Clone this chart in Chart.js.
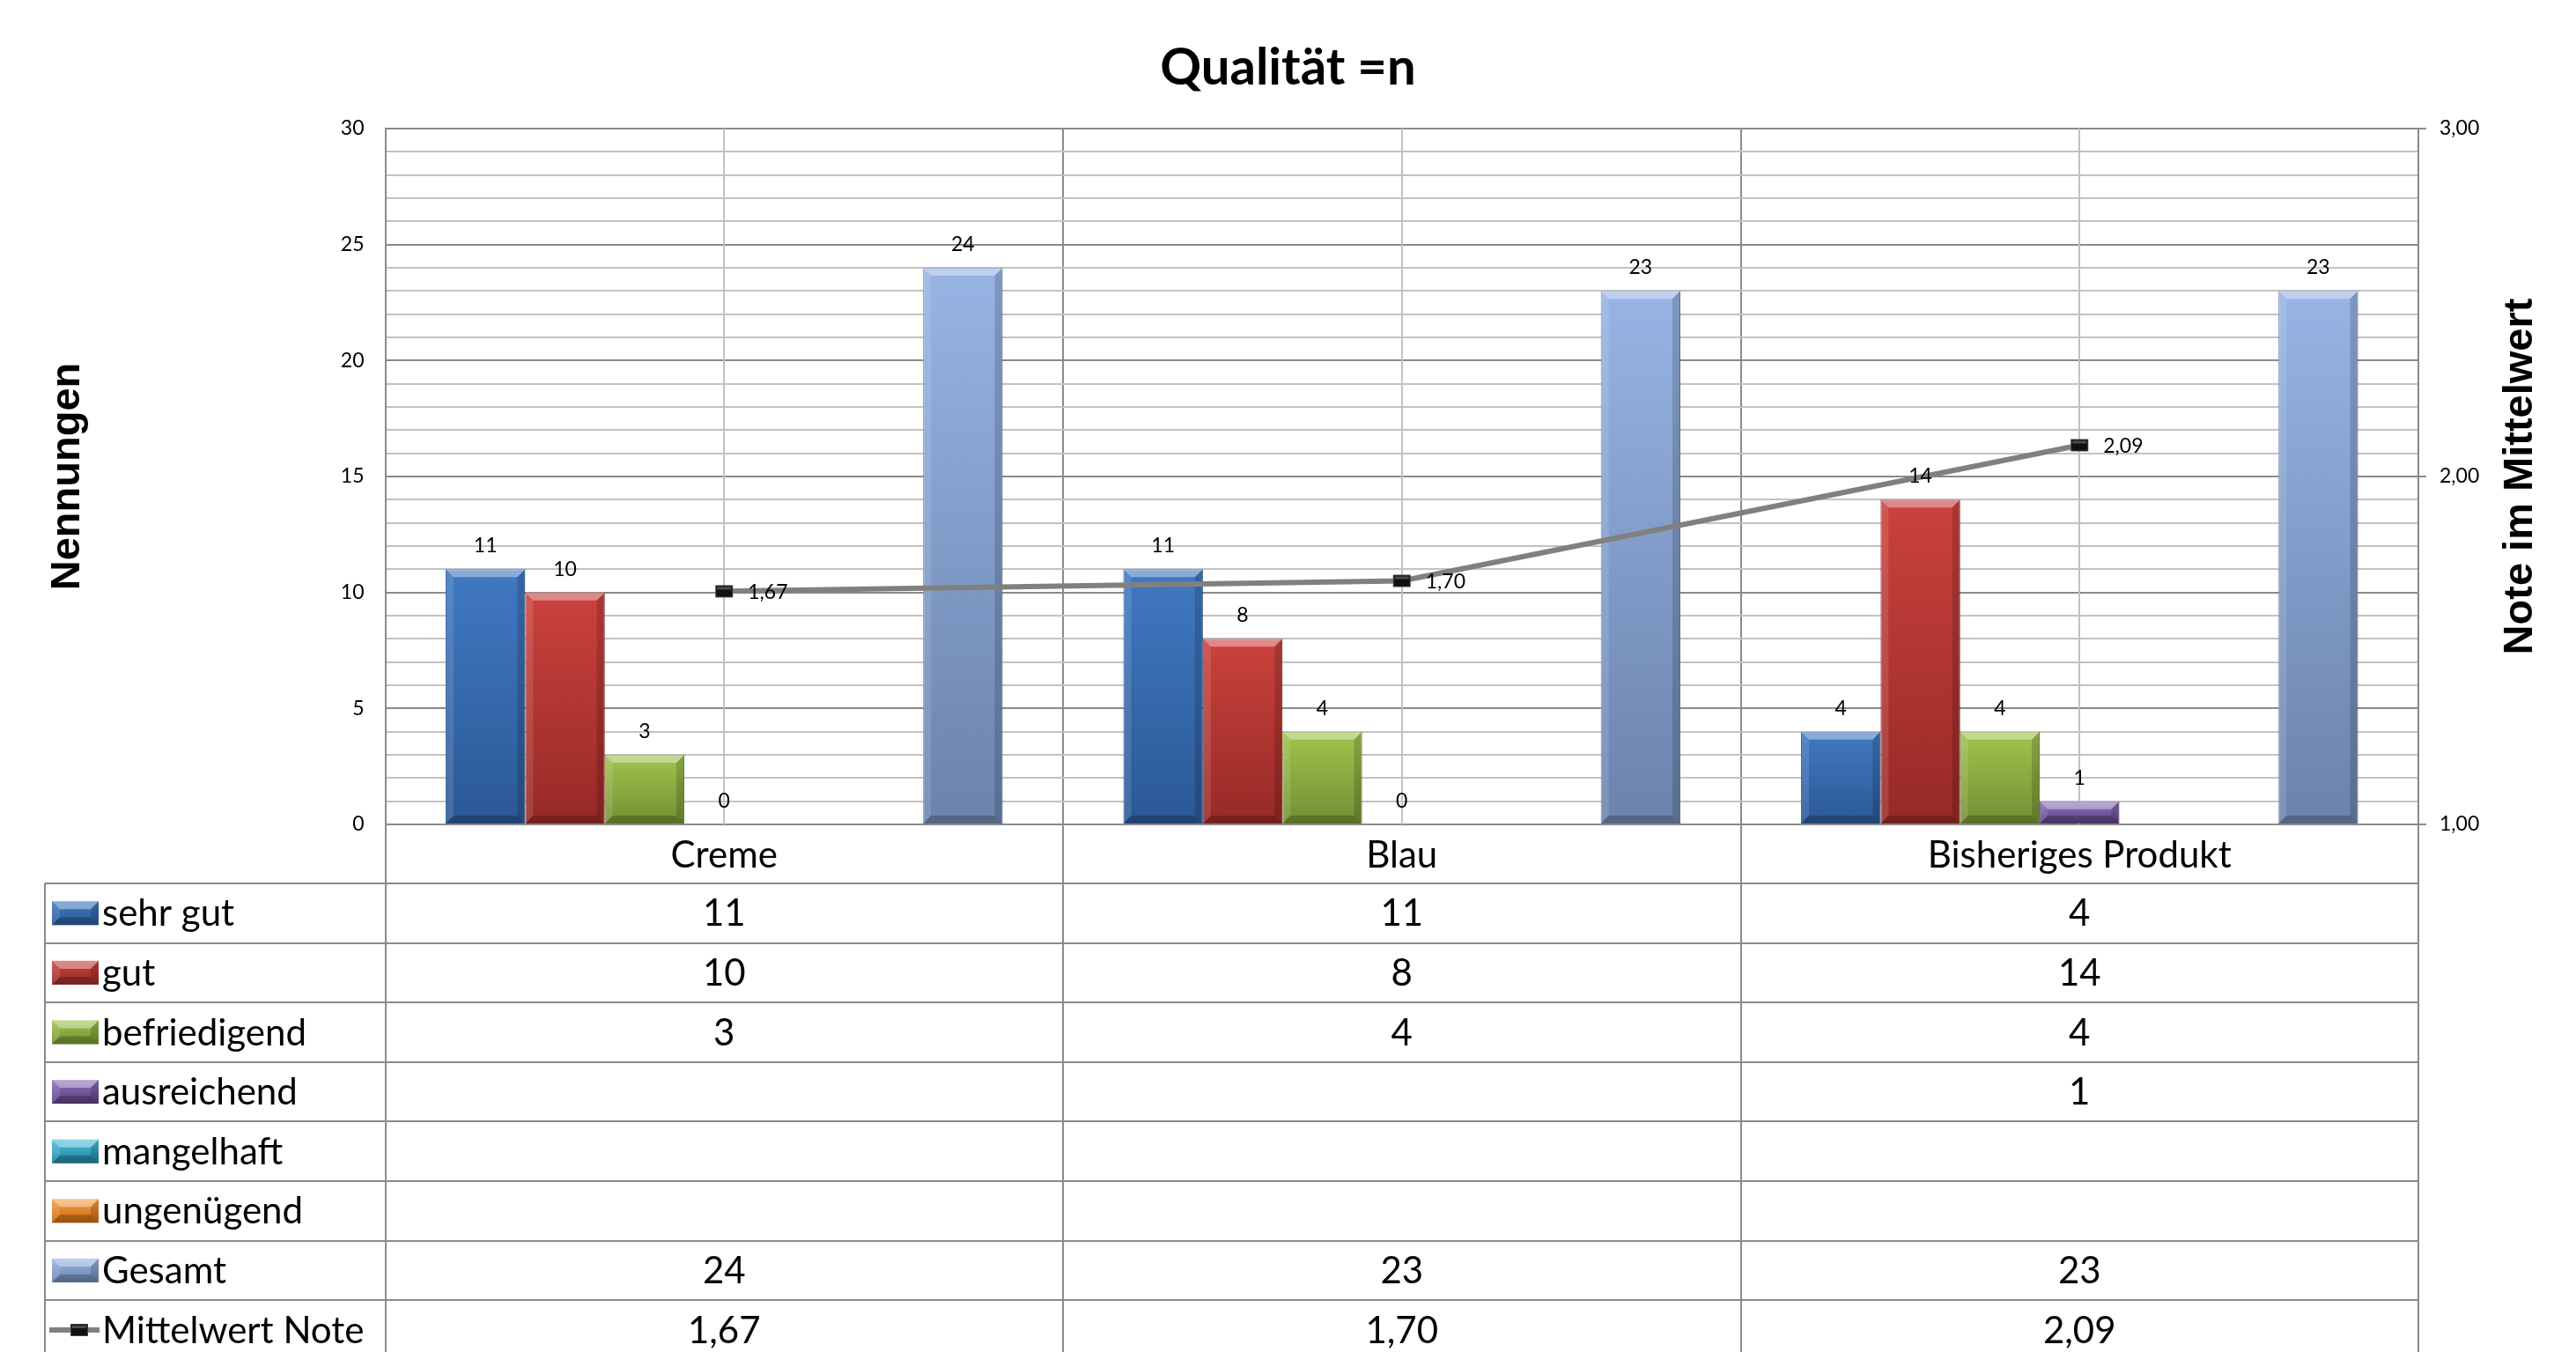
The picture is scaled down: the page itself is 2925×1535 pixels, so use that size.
<!DOCTYPE html>
<html>
<head>
<meta charset="utf-8">
<script src="https://cdn.jsdelivr.net/npm/chart.js@4.4.1/dist/chart.umd.min.js"></script>
<style>
html, body { margin: 0; padding: 0; background: #fff; }
canvas { display: block; }
</style>
</head>
<body>
<canvas id="myChart" width="2925" height="1535" style="width:2925px;height:1535px"></canvas>
<script>
// Daten
const categories = ["Creme", "Blau", "Bisheriges Produkt"];
const sehrGut = [11, 11, 4];
const gut = [10, 8, 14];
const befriedigend = [3, 4, 4];
const ausreichend = [0, 0, 1];
const mangelhaft = [null, null, null];
const ungenuegend = [null, null, null];
const gesamt = [24, 23, 23];
const mittelwertNote = [1.67, 1.70, 2.09];
const leftTicks = [0, 5, 10, 15, 20, 25, 30];
const rightTicks = [1, 2, 3];

const gridDark = '#8A8A8A';
const gridLight = '#C2C2C2';

function komma(v) {
    return v.toFixed(2).replace('.', ',');
}

// Verlauf je Balken (oben hell, unten dunkel)
function barGradient(top, bottom) {
    return function (ctx) {
        const chart = ctx.chart;
        if (!chart.chartArea || ctx.raw == null || !chart.scales.y) return bottom;
        const y = chart.scales.y.getPixelForValue(ctx.raw);
        const base = chart.scales.y.getPixelForValue(0);
        const g = chart.ctx.createLinearGradient(0, y, 0, Math.max(base, y + 1));
        g.addColorStop(0, top);
        g.addColorStop(1, bottom);
        return g;
    };
}

// Marker fuer die Linie
const marker = document.createElement('canvas');
marker.width = 22;
marker.height = 16;
(function () {
    const m = marker.getContext('2d');
    m.fillStyle = '#111';
    m.fillRect(1, 1, 20, 14);
    m.strokeStyle = '#444';
    m.lineWidth = 1;
    m.strokeRect(1.5, 1.5, 19, 13);
    m.fillStyle = 'rgba(255,255,255,0.25)';
    m.fillRect(3, 3, 16, 3);
})();

const barSeries = [
    { label: 'sehr gut', data: sehrGut, top: '#4079C2', bottom: '#2B5895' },
    { label: 'gut', data: gut, top: '#CB423D', bottom: '#962925' },
    { label: 'befriedigend', data: befriedigend, top: '#A0C44E', bottom: '#728F33' },
    { label: 'ausreichend', data: ausreichend, top: '#8E70BC', bottom: '#5A3F7E' },
    { label: 'mangelhaft', data: mangelhaft, top: '#4CC2DE', bottom: '#1F7F98' },
    { label: 'ungenügend', data: ungenuegend, top: '#F7A048', bottom: '#C8660E' },
    { label: 'Gesamt', data: gesamt, top: '#97B4E4', bottom: '#6B83AD' }
];

const datasets = [
    {
        type: 'line',
        label: 'Mittelwert Note',
        data: mittelwertNote,
        yAxisID: 'y1',
        order: 0,
        borderColor: '#808080',
        borderWidth: 6,
        tension: 0,
        pointStyle: marker,
        pointRadius: 8,
        pointHoverRadius: 8,
        fill: false
    }
];
barSeries.forEach(function (s) {
    datasets.push({
        type: 'bar',
        label: s.label,
        data: s.data,
        yAxisID: 'y',
        order: 1,
        backgroundColor: barGradient(s.top, s.bottom),
        borderColor: s.bottom,
        borderWidth: 1,
        categoryPercentage: 0.822,
        barPercentage: 1.0
    });
});

// senkrechte Linien in der Kategoriemitte
const centerLines = {
    id: 'centerLines',
    beforeDatasetsDraw(chart) {
        const c = chart.ctx, a = chart.chartArea, x = chart.scales.x;
        c.save();
        c.strokeStyle = gridLight;
        c.lineWidth = 2;
        categories.forEach(function (_, i) {
            const px = Math.round(x.getPixelForValue(i));
            c.beginPath();
            c.moveTo(px, a.top);
            c.lineTo(px, a.bottom);
            c.stroke();
        });
        c.restore();
    }
};

function drawBevel(c, left, top, right, bottom) {
    const h = bottom - top, w = right - left;
    if (h < 1) return;
    const b = Math.min(9, h / 2, w / 2);
    const poly = function (pts, col) {
        c.fillStyle = col;
        c.beginPath();
        c.moveTo(pts[0], pts[1]);
        for (let k = 2; k < pts.length; k += 2) c.lineTo(pts[k], pts[k + 1]);
        c.closePath();
        c.fill();
    };
    poly([left, top, right, top, right - b, top + b, left + b, top + b], 'rgba(255,255,255,0.38)');
    poly([left, top, left + b, top + b, left + b, bottom - b, left, bottom], 'rgba(255,255,255,0.12)');
    poly([right, top, right, bottom, right - b, bottom - b, right - b, top + b], 'rgba(0,0,0,0.16)');
    poly([left, bottom, left + b, bottom - b, right - b, bottom - b, right, bottom], 'rgba(0,0,0,0.22)');
}

// Kanten der Balken
const bevelPlugin = {
    id: 'bevel',
    afterDatasetDraw(chart, args) {
        const meta = args.meta;
        if (meta.type !== 'bar') return;
        const c = chart.ctx;
        const raw = chart.data.datasets[meta.index].data;
        c.save();
        meta.data.forEach(function (el, i) {
            if (raw[i] == null) return;
            const p = el.getProps(['x', 'y', 'base', 'width'], true);
            drawBevel(c, p.x - p.width / 2, Math.min(p.y, p.base), p.x + p.width / 2, Math.max(p.y, p.base));
        });
        c.restore();
    }
};

// Datenbeschriftungen
const valueLabels = {
    id: 'valueLabels',
    afterDatasetsDraw(chart) {
        const c = chart.ctx;
        c.save();
        c.fillStyle = '#000';
        c.font = '23px Lato';
        chart.data.datasets.forEach(function (ds, di) {
            const meta = chart.getDatasetMeta(di);
            meta.data.forEach(function (el, i) {
                const v = ds.data[i];
                if (v == null) return;
                if (ds.type === 'line') {
                    c.textAlign = 'left';
                    c.textBaseline = 'middle';
                    c.fillText(komma(v), el.x + 27, el.y + 1);
                } else {
                    c.textAlign = 'center';
                    c.textBaseline = 'alphabetic';
                    c.fillText(String(v), el.x, el.y - 19);
                }
            });
        });
        c.restore();
    }
};

// Titel, Achsentitel, Datentabelle
const decor = {
    id: 'decor',
    afterDraw(chart) {
        const c = chart.ctx, a = chart.chartArea, x = chart.scales.x;
        const W = chart.width, H = chart.height;
        c.save();

        c.fillStyle = '#000';
        c.font = 'bold 58px Lato';
        c.textAlign = 'center';
        c.textBaseline = 'alphabetic';
        c.fillText('Qualität =n', W / 2, 96);

        c.font = 'bold 47px "Liberation Sans"';
        c.save();
        c.translate(90, (a.top + a.bottom) / 2);
        c.rotate(-Math.PI / 2);
        c.fillText('Nennungen', 0, 0);
        c.restore();
        c.save();
        c.translate(2875, (a.top + a.bottom) / 2);
        c.rotate(-Math.PI / 2);
        c.fillText('Note im Mittelwert', 0, 0);
        c.restore();

        // Tabelle
        const rows = barSeries.concat([{ label: 'Mittelwert Note', data: mittelwertNote, line: true }]);
        const rowH = 67.6;
        const top0 = a.bottom + 67;
        const left = 51;
        const n = categories.length;
        c.strokeStyle = gridDark;
        c.lineWidth = 2;
        c.beginPath();
        for (let r = 0; r <= rows.length; r++) {
            const y = Math.round(top0 + r * rowH);
            c.moveTo(left, y);
            c.lineTo(a.right, y);
        }
        c.moveTo(left, top0);
        c.lineTo(left, H);
        for (let i = 0; i <= n; i++) {
            const bx = Math.round(a.left + i * (a.right - a.left) / n);
            c.moveTo(bx, a.bottom);
            c.lineTo(bx, H);
        }
        c.stroke();

        c.font = '42px Lato';
        c.textBaseline = 'middle';
        rows.forEach(function (row, r) {
            const cy = top0 + r * rowH + rowH / 2;
            if (row.line) {
                c.strokeStyle = '#808080';
                c.lineWidth = 6;
                c.beginPath();
                c.moveTo(56, cy);
                c.lineTo(113, cy);
                c.stroke();
                c.drawImage(marker, 90 - marker.width / 2, cy - marker.height / 2);
            } else {
                const g = c.createLinearGradient(0, cy - 13.5, 0, cy + 13.5);
                g.addColorStop(0, row.top);
                g.addColorStop(1, row.bottom);
                c.fillStyle = g;
                c.fillRect(59, cy - 13.5, 53, 27);
                drawBevel(c, 59, cy - 13.5, 112, cy + 13.5);
            }
            c.fillStyle = '#000';
            c.textAlign = 'left';
            c.fillText(row.label, 116, cy + 1);
            c.textAlign = 'center';
            row.data.forEach(function (v, i) {
                let t = '';
                if (row.line) t = komma(v);
                else if (v) t = String(v);
                c.fillText(t, x.getPixelForValue(i), cy + 1);
            });
        });
        c.restore();
    }
};

let ctx = document.getElementById("myChart").getContext("2d");
let myChart = new Chart(ctx, {
    type: 'bar',
    data: {
        labels: categories,
        datasets: datasets
    },
    options: {
        responsive: false,
        animation: false,
        devicePixelRatio: 1,
        layout: { padding: { top: 146, bottom: 532, left: 0, right: 0 } },
        plugins: {
            legend: { display: false },
            tooltip: { enabled: false },
            title: { display: false }
        },
        scales: {
            x: {
                offset: true,
                grid: { color: gridDark, lineWidth: 2, drawTicks: false, offset: true },
                border: { display: false },
                ticks: { color: '#000', font: { family: 'Lato', size: 42 }, padding: 10, maxRotation: 0 },
                afterFit: function (scale) { scale.height = 67; }
            },
            y: {
                position: 'left',
                min: 0,
                max: 30,
                grid: {
                    lineWidth: 2,
                    drawTicks: false,
                    color: function (c) {
                        return c.tick && leftTicks.includes(c.tick.value) ? gridDark : gridLight;
                    }
                },
                border: { display: true, color: gridDark, width: 2 },
                ticks: {
                    stepSize: 1,
                    autoSkip: false,
                    color: '#000',
                    padding: 24,
                    font: { family: 'Lato', size: 23 },
                    callback: function (v) { return leftTicks.includes(v) ? String(v) : ''; }
                },
                afterFit: function (scale) { scale.width = 437.5; }
            },
            y1: {
                position: 'right',
                min: 1,
                max: 3,
                grid: { drawOnChartArea: false, color: gridDark, lineWidth: 2, tickLength: 9 },
                border: { display: true, color: gridDark, width: 2 },
                ticks: {
                    stepSize: 1,
                    color: '#000',
                    padding: 15,
                    font: { family: 'Lato', size: 23 },
                    callback: function (v) { return rightTicks.includes(v) ? komma(v) : ''; }
                },
                afterFit: function (scale) { scale.width = 179; }
            }
        }
    },
    plugins: [centerLines, bevelPlugin, valueLabels, decor]
});
</script>
</body>
</html>
